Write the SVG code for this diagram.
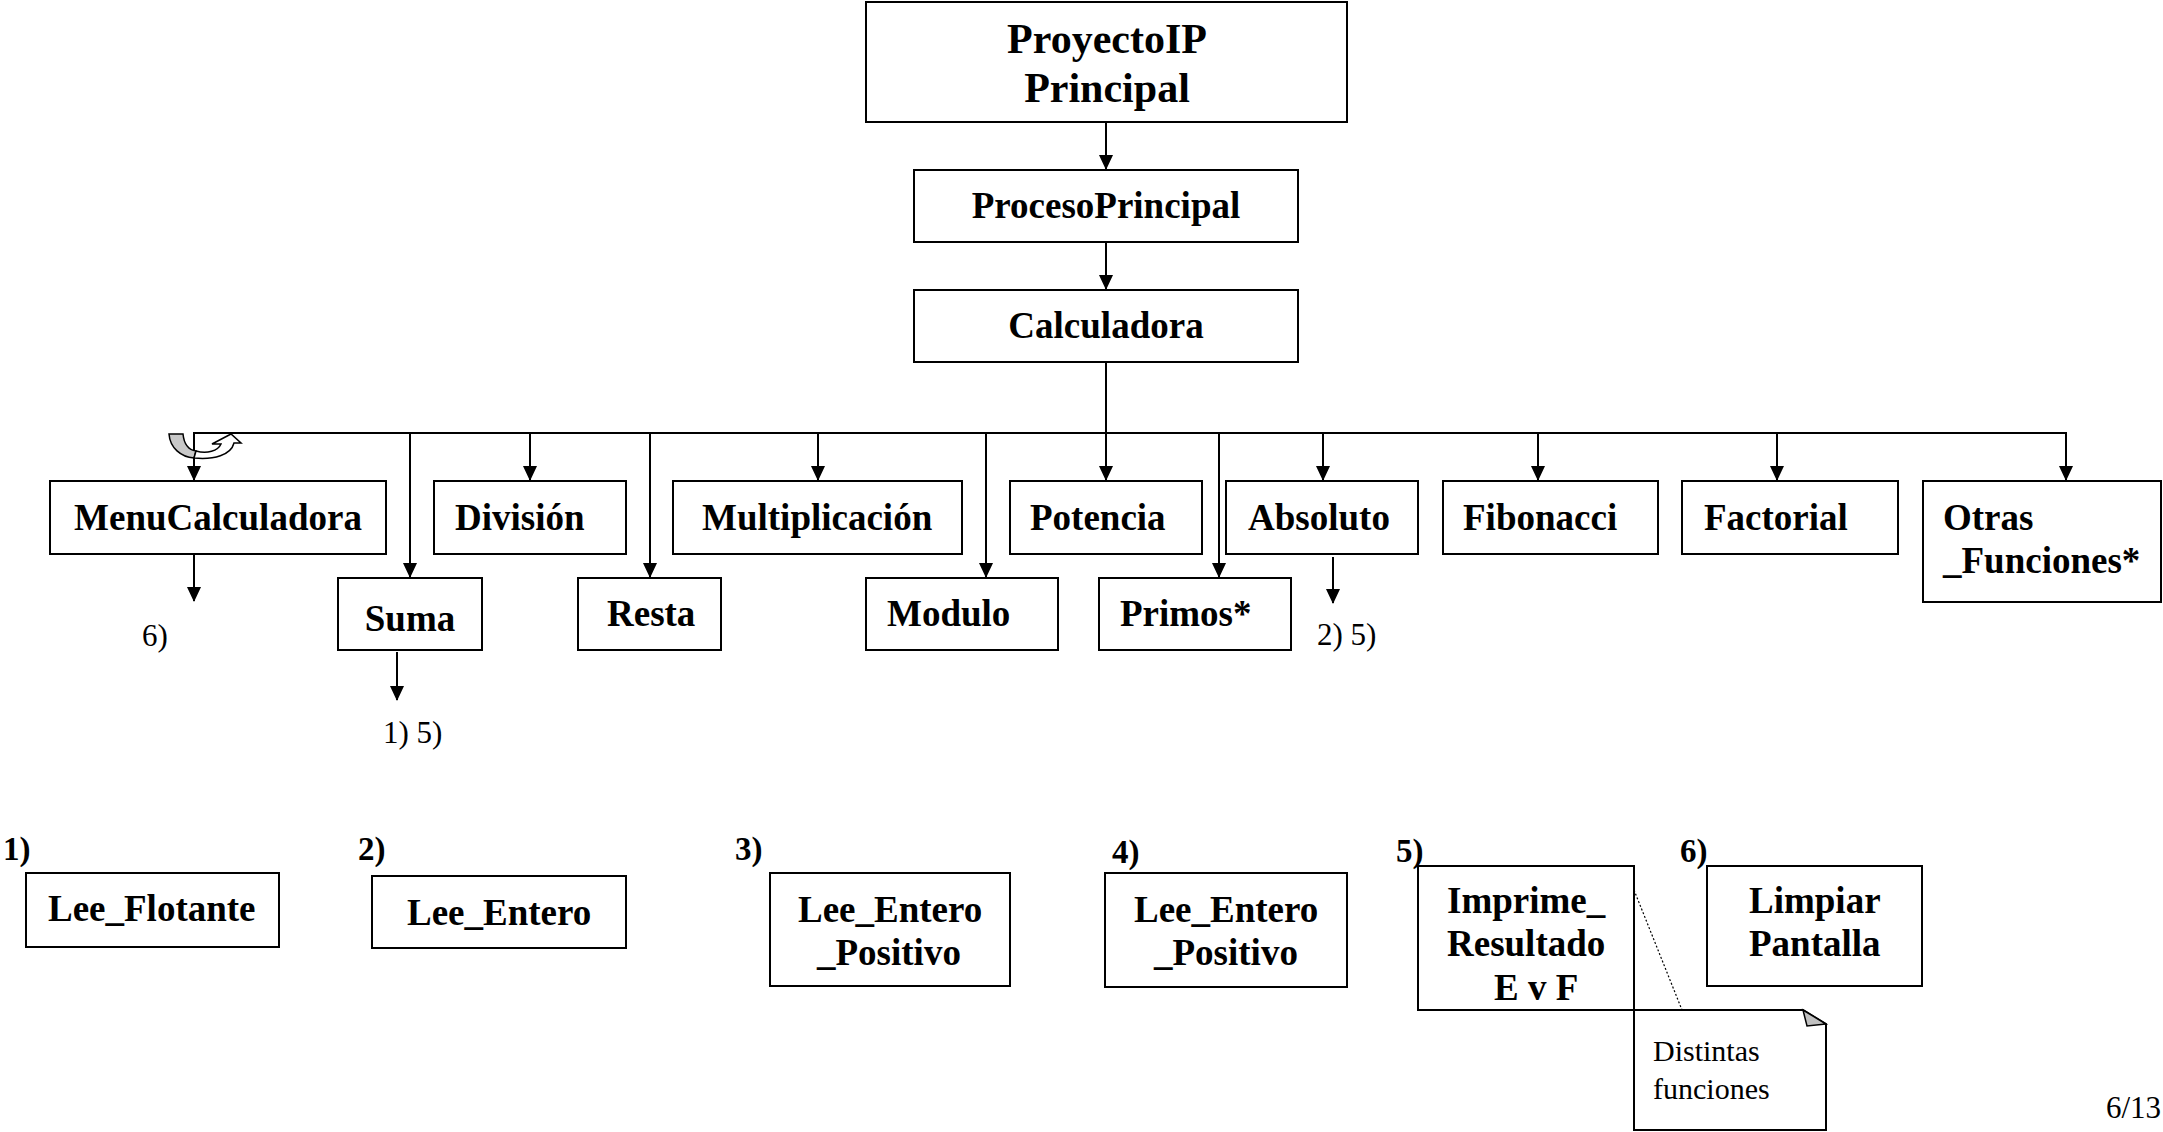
<svg xmlns="http://www.w3.org/2000/svg" width="2163" height="1132" viewBox="0 0 2163 1132">
<style>
.b{fill:#fff;stroke:#000;stroke-width:2}
.t{font-family:"Liberation Serif","Times New Roman",serif;font-weight:bold;font-size:37px;fill:#000}
.r{font-family:"Liberation Serif","Times New Roman",serif;font-size:31px;fill:#000}
.n{font-family:"Liberation Serif","Times New Roman",serif;font-weight:bold;font-size:33px;fill:#000}
.c{fill:none;stroke:#000;stroke-width:2}
</style>
<defs>
<marker id="a" markerWidth="16" markerHeight="16" refX="14" refY="7" orient="auto" markerUnits="userSpaceOnUse">
<path d="M0,0 L15,7 L0,14 Z" fill="#000"/>
</marker>
</defs>
<rect width="2163" height="1132" fill="#fff"/>
<g id="connectors">
<line class="c" x1="1106" y1="122" x2="1106" y2="169" marker-end="url(#a)"/>
<line class="c" x1="1106" y1="242" x2="1106" y2="289" marker-end="url(#a)"/>
<line class="c" x1="1106" y1="362" x2="1106" y2="480" marker-end="url(#a)"/>
<polyline class="c" points="194,480 194,433 2066,433 2066,480" marker-end="url(#a)"/>
<line class="c" x1="194" y1="433" x2="194" y2="480" marker-end="url(#a)"/>
<line class="c" x1="410" y1="433" x2="410" y2="577" marker-end="url(#a)"/>
<line class="c" x1="530" y1="433" x2="530" y2="480" marker-end="url(#a)"/>
<line class="c" x1="650" y1="433" x2="650" y2="577" marker-end="url(#a)"/>
<line class="c" x1="818" y1="433" x2="818" y2="480" marker-end="url(#a)"/>
<line class="c" x1="986" y1="433" x2="986" y2="577" marker-end="url(#a)"/>
<line class="c" x1="1219" y1="433" x2="1219" y2="577" marker-end="url(#a)"/>
<line class="c" x1="1323" y1="433" x2="1323" y2="480" marker-end="url(#a)"/>
<line class="c" x1="1538" y1="433" x2="1538" y2="480" marker-end="url(#a)"/>
<line class="c" x1="1777" y1="433" x2="1777" y2="480" marker-end="url(#a)"/>
<line class="c" x1="194" y1="555" x2="194" y2="601" marker-end="url(#a)"/>
<line class="c" x1="397" y1="652" x2="397" y2="700" marker-end="url(#a)"/>
<line class="c" x1="1333" y1="557" x2="1333" y2="603" marker-end="url(#a)"/>
<line x1="1634" y1="890" x2="1682" y2="1010" stroke="#000" stroke-width="1.2" stroke-dasharray="2,2"/>
</g>
<g id="uturn">
<path d="M169,434 H183 C184,444 189,450 196,451 L194,458 C181,457 170,448 169,434 Z" fill="#c8c8c8" stroke="#000" stroke-width="1.5"/>
<path d="M194,458 C214,460 231,455 234,443 L241,443 L231,434 L212,444 L221,444 C218,451 207,454 196,451 Z" fill="#fff" stroke="#000" stroke-width="1.5"/>
</g>
<g id="ProyectoIP"><rect class="b" x="866" y="2" width="481" height="120"/><text class="t" style="font-size:42px" x="1107" y="53" text-anchor="middle">ProyectoIP</text><text class="t" style="font-size:42px" x="1107" y="102" text-anchor="middle">Principal</text></g>
<g id="ProcesoPrincipal"><rect class="b" x="914" y="170" width="384" height="72"/><text class="t" x="1106" y="218" text-anchor="middle">ProcesoPrincipal</text></g>
<g id="Calculadora"><rect class="b" x="914" y="290" width="384" height="72"/><text class="t" x="1106" y="338" text-anchor="middle">Calculadora</text></g>
<g id="MenuCalculadora"><rect class="b" x="50" y="481" width="336" height="73"/><text class="t" x="218" y="530" text-anchor="middle">MenuCalculadora</text></g>
<g id="Suma"><rect class="b" x="338" y="578" width="144" height="72"/><text class="t" x="410" y="631" text-anchor="middle">Suma</text></g>
<g id="Division"><rect class="b" x="434" y="481" width="192" height="73"/><text class="t" x="455" y="530">División</text></g>
<g id="Resta"><rect class="b" x="578" y="578" width="143" height="72"/><text class="t" x="607" y="626">Resta</text></g>
<g id="Multiplicacion"><rect class="b" x="673" y="481" width="289" height="73"/><text class="t" x="702" y="530">Multiplicación</text></g>
<g id="Modulo"><rect class="b" x="866" y="578" width="192" height="72"/><text class="t" x="887" y="626">Modulo</text></g>
<g id="Potencia"><rect class="b" x="1010" y="481" width="192" height="73"/><text class="t" x="1030" y="530">Potencia</text></g>
<g id="Primos"><rect class="b" x="1099" y="578" width="192" height="72"/><text class="t" x="1120" y="626">Primos*</text></g>
<g id="Absoluto"><rect class="b" x="1226" y="481" width="192" height="73"/><text class="t" x="1248" y="530">Absoluto</text></g>
<g id="Fibonacci"><rect class="b" x="1443" y="481" width="215" height="73"/><text class="t" x="1463" y="530">Fibonacci</text></g>
<g id="Factorial"><rect class="b" x="1682" y="481" width="216" height="73"/><text class="t" x="1704" y="530">Factorial</text></g>
<g id="OtrasFunciones"><rect class="b" x="1923" y="481" width="238" height="121"/><text class="t" x="1943" y="530">Otras</text><text class="t" x="1943" y="573">_Funciones*</text></g>
<g id="refs">
<text class="r" x="142" y="646">6)</text>
<text class="r" x="383" y="743">1) 5)</text>
<text class="r" x="1317" y="645">2) 5)</text>
<text class="r" x="2106" y="1118">6/13</text>
</g>
<g id="LeeFlotante"><text class="n" x="3" y="860">1)</text><rect class="b" x="26" y="873" width="253" height="74"/><text class="t" x="48" y="921">Lee_Flotante</text></g>
<g id="LeeEntero"><text class="n" x="358" y="860">2)</text><rect class="b" x="372" y="876" width="254" height="72"/><text class="t" x="407" y="925">Lee_Entero</text></g>
<g id="LeeEnteroPositivo3"><text class="n" x="735" y="860">3)</text><rect class="b" x="770" y="873" width="240" height="113"/><text class="t" x="798" y="922">Lee_Entero</text><text class="t" x="817" y="965">_Positivo</text></g>
<g id="LeeEnteroPositivo4"><text class="n" x="1112" y="863">4)</text><rect class="b" x="1105" y="873" width="242" height="114"/><text class="t" x="1134" y="922">Lee_Entero</text><text class="t" x="1154" y="965">_Positivo</text></g>
<g id="ImprimeResultado"><text class="n" x="1396" y="862">5)</text><rect class="b" x="1418" y="866" width="216" height="144"/><text class="t" x="1447" y="913">Imprime_</text><text class="t" x="1447" y="956">Resultado</text><text class="t" x="1494" y="1000">E v F</text></g>
<g id="LimpiarPantalla"><text class="n" x="1680" y="862">6)</text><rect class="b" x="1707" y="866" width="215" height="120"/><text class="t" x="1749" y="913">Limpiar</text><text class="t" x="1749" y="956">Pantalla</text></g>
<g id="note">
<path d="M1634,1010 H1803 L1826,1024 V1130 H1634 Z" fill="#fff" stroke="#000" stroke-width="2"/>
<path d="M1803,1010 L1826,1024 L1807,1026 Z" fill="#c0c0c0" stroke="#000" stroke-width="1.5"/>
<text class="r" style="font-size:30px" x="1653" y="1061">Distintas</text>
<text class="r" style="font-size:30px" x="1653" y="1099">funciones</text>
</g>
</svg>
